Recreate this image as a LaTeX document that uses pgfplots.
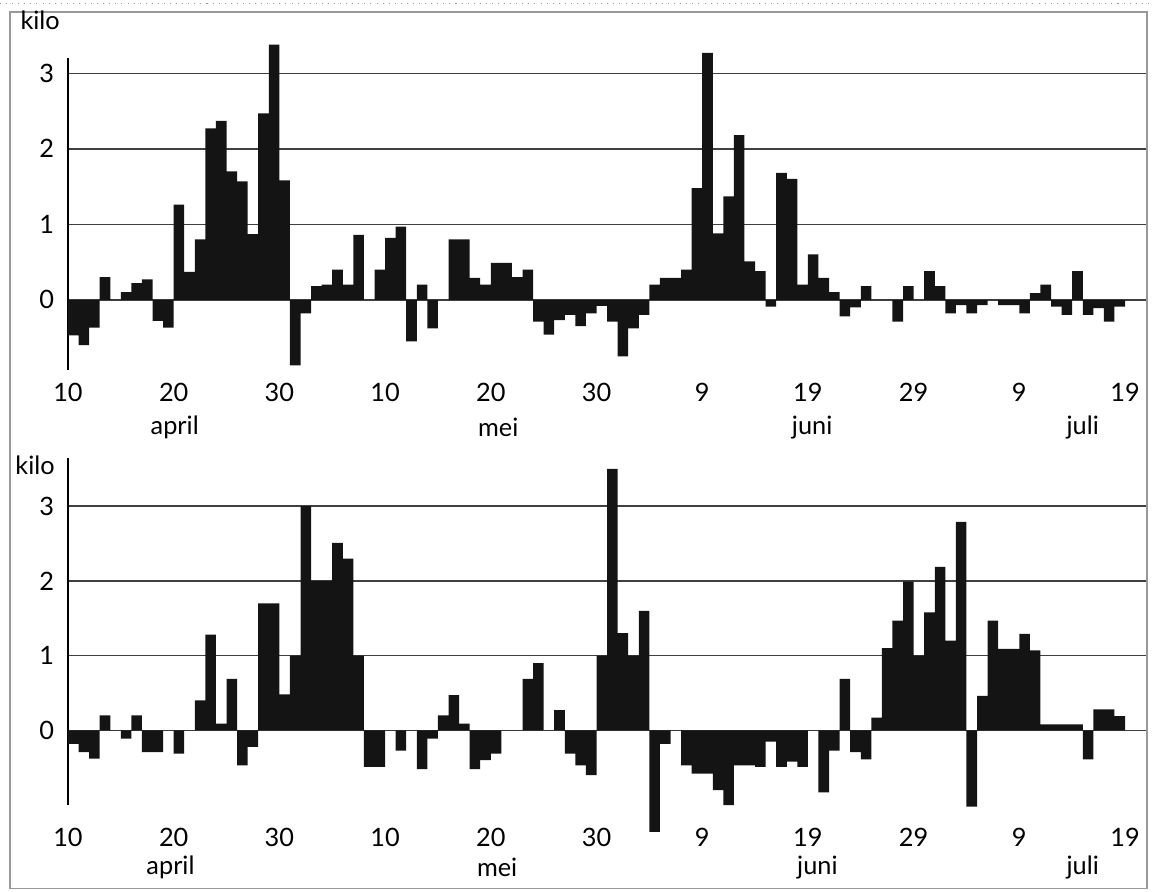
\documentclass[border=0pt]{standalone}
\usepackage{fontspec}
\setmainfont{Lato}
\usepackage{pgfplots}
\usepackage{pgfplotstable}
\pgfplotsset{compat=1.18}

% dag 0 = 10 april, waarde in kilo (boven)
\pgfplotstableread{
d v
0 -0.47
1 -0.60
2 -0.37
3 0.30
4 0
5 0.10
6 0.22
7 0.27
8 -0.28
9 -0.37
10 1.26
11 0.37
12 0.80
13 2.27
14 2.37
15 1.70
16 1.57
17 0.87
18 2.47
19 3.38
20 1.58
21 -0.87
22 -0.18
23 0.18
24 0.20
25 0.40
26 0.20
27 0.86
28 0
29 0.40
30 0.82
31 0.97
32 -0.55
33 0.20
34 -0.38
35 0
36 0.80
37 0.80
38 0.29
39 0.20
40 0.49
41 0.49
42 0.30
43 0.40
44 -0.29
45 -0.46
46 -0.27
47 -0.20
48 -0.35
49 -0.18
50 -0.08
51 -0.29
52 -0.75
53 -0.38
54 -0.20
55 0.20
56 0.29
57 0.29
58 0.40
59 1.48
60 3.27
61 0.88
62 1.37
63 2.18
64 0.51
65 0.38
66 -0.09
67 1.68
68 1.60
69 0.20
70 0.60
71 0.29
72 0.10
73 -0.22
74 -0.10
75 0.18
76 0
77 0
78 -0.29
79 0.18
80 0
81 0.38
82 0.18
83 -0.18
84 -0.07
85 -0.18
86 -0.07
87 0
88 -0.07
89 -0.07
90 -0.18
91 0.09
92 0.20
93 -0.09
94 -0.20
95 0.38
96 -0.20
97 -0.11
98 -0.29
99 -0.09
}\boven

% onderste grafiek
\pgfplotstableread{
d v
0 -0.18
1 -0.29
2 -0.38
3 0.20
4 0
5 -0.11
6 0.20
7 -0.29
8 -0.29
9 0
10 -0.31
11 0
12 0.40
13 1.28
14 0.09
15 0.69
16 -0.47
17 -0.22
18 1.70
19 1.70
20 0.48
21 1.00
22 3.00
23 2.00
24 2.00
25 2.51
26 2.30
27 1.00
28 -0.49
29 -0.49
30 0
31 -0.27
32 0
33 -0.52
34 -0.11
35 0.20
36 0.47
37 0.09
38 -0.52
39 -0.40
40 -0.31
41 0
42 0
43 0.69
44 0.90
45 0
46 0.27
47 -0.31
48 -0.47
49 -0.60
50 1.00
51 3.50
52 1.30
53 1.00
54 1.60
55 -1.36
56 -0.18
57 0
58 -0.47
59 -0.58
60 -0.58
61 -0.80
62 -1.00
63 -0.47
64 -0.47
65 -0.49
66 -0.15
67 -0.49
68 -0.42
69 -0.49
70 0
71 -0.83
72 -0.27
73 0.69
74 -0.29
75 -0.39
76 0.17
77 1.10
78 1.47
79 1.99
80 1.00
81 1.58
82 2.19
83 1.20
84 2.79
85 -1.02
86 0.46
87 1.47
88 1.09
89 1.09
90 1.29
91 1.07
92 0.08
93 0.08
94 0.08
95 0.08
96 -0.39
97 0.28
98 0.28
99 0.19
}\onder

\pgfplotsset{
  dagen/.style={
    scale only axis, width=14.975cm,
    xmin=0, xmax=102,
    axis lines*=left,
    x axis line style={draw=none},
    y axis line style={-, black, line width=0.8pt},
    tick style={draw=none},
    xtick={0,10,...,100},
    xticklabels={10,20,30,10,20,30,9,19,29,9,19},
    ytick={0,1,2,3}, yticklabels={0,1,2,3},
    yticklabel style={xshift=-2pt},
    ymajorgrids, grid style={black!75, line width=0.6pt},
    ybar, bar width=1,
    clip=false,
    font=\fontsize{10}{12}\selectfont,
  },
  staaf/.style={fill=black!92, draw=none},
}

\begin{document}
\begin{tikzpicture}
\path[use as bounding box] (0,0) rectangle (16cm,12.375cm);
\draw[black!40, dotted] (0,12.33cm) -- (16cm,12.33cm);
\draw[black!40, line width=0.5pt] (0.139cm,0.03cm) rectangle (15.93cm,12.21cm);

\begin{axis}[dagen, at={(0.944cm,7.236cm)}, anchor=south west,
  height=4.331cm, ymin=-0.93, ymax=3.2,
  xticklabel style={yshift=2.5pt}]
\addplot[staaf] table[x expr=\thisrow{d}+0.5, y=v] {\boven};
\node[yshift=-22.8pt] at (axis cs:10.1,-0.93) {april};
\node[yshift=-22.8pt] at (axis cs:40.7,-0.93) {mei};
\node[yshift=-22.8pt] at (axis cs:70.4,-0.93) {juni};
\node[yshift=-22.8pt] at (axis cs:96,-0.93) {juli};
\node[xshift=-11pt, yshift=15pt] at (rel axis cs:0,1) {kilo};
\end{axis}

\begin{axis}[dagen, at={(0.944cm,1.194cm)}, anchor=south west,
  height=4.814cm, ymin=-1.0, ymax=3.64,
  xticklabel style={yshift=-1.5pt}]
\addplot[staaf] table[x expr=\thisrow{d}+0.5, y=v] {\onder};
\node[yshift=-24.8pt] at (axis cs:9.7,-1.0) {april};
\node[yshift=-24.8pt] at (axis cs:40.6,-1.0) {mei};
\node[yshift=-24.8pt] at (axis cs:70.9,-1.0) {juni};
\node[yshift=-24.8pt] at (axis cs:96,-1.0) {juli};
\node[xshift=-13pt, yshift=-2.8pt] at (rel axis cs:0,1) {kilo};
\end{axis}
\end{tikzpicture}
\end{document}
